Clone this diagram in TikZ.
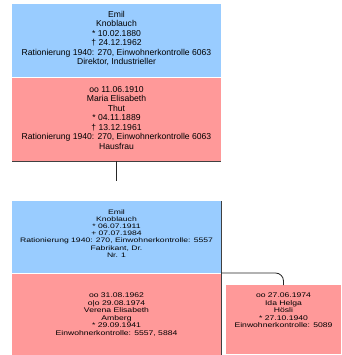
\documentclass[tikz,border=0pt]{standalone}
\usepackage{fontspec}
\setmainfont{Liberation Sans}
\definecolor{boxblue}{HTML}{99CCFF}
\definecolor{boxpink}{HTML}{FF9999}
\newcommand\boxtext[2]{\scalebox{1}[#1]{\setlength\tabcolsep{0pt}\begin{tabular}{c}#2\end{tabular}}}
\begin{document}
\begin{tikzpicture}[x=1pt,y=-1pt,
  panel/.style={draw=none, inner sep=0pt, outer sep=0pt, anchor=north west},
  bluepanel/.style={panel, fill=boxblue},
  pinkpanel/.style={panel, fill=boxpink},
  boxlabel/.style={inner sep=0pt, anchor=north, font=\fontsize{8.6}{9.5}\selectfont},
  edgeline/.style={draw=black!75, line width=0.9pt},
  link/.style={draw=black!85, line width=0.8pt}]
\useasboundingbox (0,0) rectangle (341,355);
% top couple
\node[bluepanel, minimum width=209pt, minimum height=73pt] (b1) at (12,4) {};
\node[pinkpanel, minimum width=209pt, minimum height=83pt] (p1) at (12,78) {};
\draw[edgeline] (p1.south west) -- (p1.south east);
\node[boxlabel] (t1) at (116.5,10.5) {\boxtext{1}{Emil\\Knoblauch\\{*} 10.02.1880\\† 24.12.1962\\Rationierung 1940: 270, Einwohnerkontrolle 6063\\Direktor, Industrieller}};
\node[boxlabel] (t2) at (116.5,85.5) {\boxtext{1}{oo 11.06.1910\\Maria Elisabeth\\Thut\\{*} 04.11.1889\\† 13.12.1961\\Rationierung 1940: 270, Einwohnerkontrolle 6063\\Hausfrau}};
% child
\coordinate (c1) at (116.5,181);
\draw[link] (p1.south) -- (c1);
\node[bluepanel, minimum width=209pt, minimum height=72pt] (b2) at (12,201) {};
\node[pinkpanel, minimum width=209pt, minimum height=81pt] (p3) at (12,274) {};
\node[pinkpanel, minimum width=115pt, minimum height=69pt] (p5) at (226,285) {};
\draw[edgeline] (b2.north east) -- (p3.south east);
\draw[link, rounded corners=8pt] (b2.south east) -| (p5.north);
\node[boxlabel] (t3) at (116.5,209.3) {\boxtext{0.75}{Emil\\Knoblauch\\{*} 06.07.1911\\+ 07.07.1984\\Rationierung 1940: 270, Einwohnerkontrolle: 5557\\Fabrikant, Dr.\\Nr. 1}};
\node[boxlabel] (t4) at (116.5,292.2) {\boxtext{0.79}{oo 31.08.1962\\o|o 29.08.1974\\Verena Elisabeth\\Amberg\\{*} 29.09.1941\\Einwohnerkontrolle: 5557, 5884}};
\node[boxlabel] (t5) at (283.5,292.2) {\boxtext{0.79}{oo 27.06.1974\\Ida Helga\\Hösli\\{*} 27.10.1940\\Einwohnerkontrolle: 5089}};
\end{tikzpicture}
\end{document}
